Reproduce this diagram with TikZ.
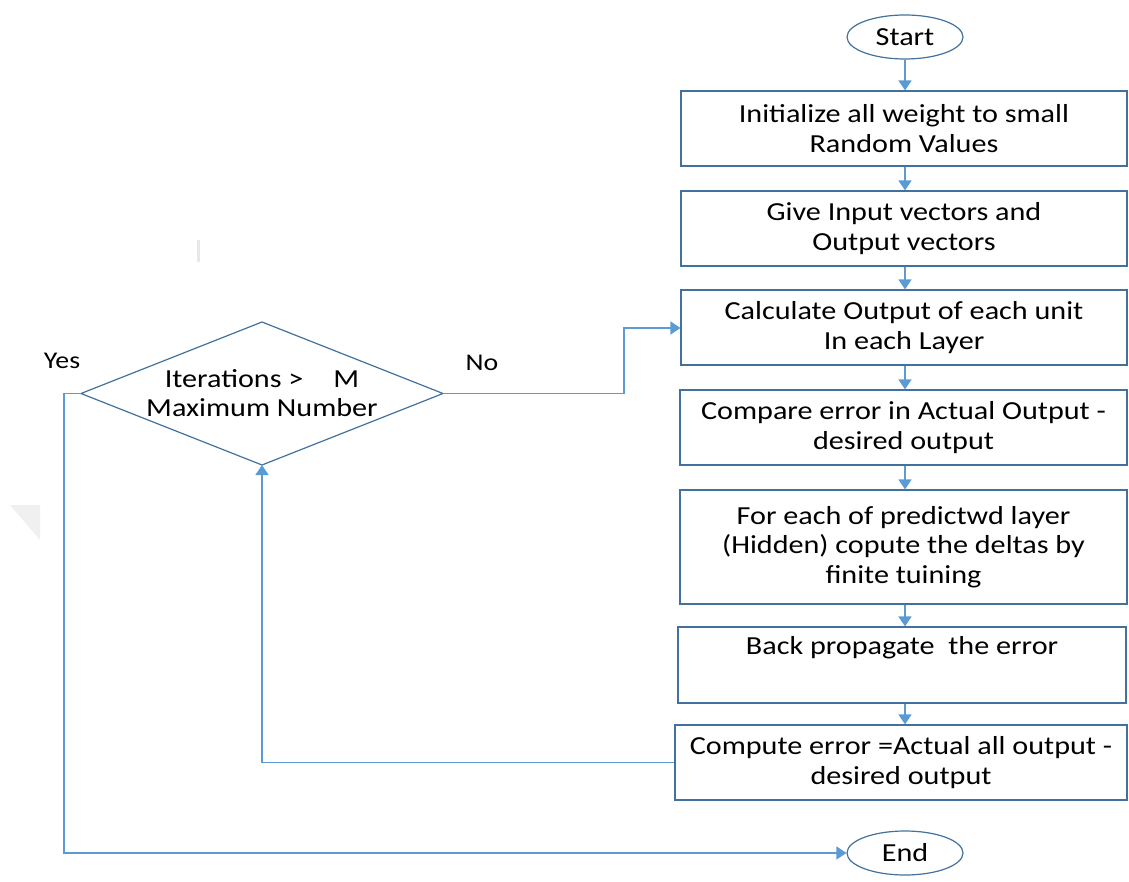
\documentclass[tikz,border=0pt]{standalone}
\usepackage{fontspec}
\setmainfont{Carlito}[FakeStretch=1.16]
\usetikzlibrary{arrows.meta,shapes.geometric}
\definecolor{linecol}{HTML}{5B9BD5}
\definecolor{boxcol}{HTML}{41719C}
\begin{document}
\begin{tikzpicture}[x=1pt,y=-1pt,
 box/.style={draw=boxcol,line width=1.2pt,rectangle,inner sep=0pt,align=center,font=\fontsize{26}{29.5}\selectfont,text=black},
 term/.style={draw=boxcol,line width=1.2pt,ellipse,minimum width=116pt,minimum height=44pt,inner sep=0pt,font=\fontsize{26}{29}\selectfont},
 dtext/.style={inner sep=0pt,align=center,font=\fontsize{26}{29.5}\selectfont},
 conn/.style={draw=linecol,line width=1.4pt,-{Triangle[width=13pt,length=10pt]}},
 dline/.style={draw=boxcol,line width=1.2pt},
 lbl/.style={font=\fontsize{24}{26}\selectfont}]
\useasboundingbox (0,0) rectangle (1129,882);
% faint artefacts
\fill[gray!18] (197,240) rectangle (200,262);
\fill[gray!12] (10,505) -- (40,505) -- (40,540) -- cycle;

\node[term] (start) at (905,37) {Start};
\node[box,minimum width=446pt,minimum height=75pt] (b1) at (904,128.5) {Initialize all weight to small\\Random Values};
\node[box,minimum width=446pt,minimum height=75pt] (b2) at (904,228.5) {Give Input vectors and\\Output vectors};
\node[box,minimum width=446pt,minimum height=75pt] (b3) at (904,327.5) {Calculate Output of each unit\\In each Layer};
\node[box,minimum width=447pt,minimum height=75pt] (b4) at (903.5,427.5) {Compare error in Actual Output -\\desired output};
\node[box,minimum width=447pt,minimum height=114pt] (b5) at (903.5,547) {For each of predictwd layer\\(Hidden) copute the deltas by\\finite tuining};
\node[box,minimum width=448pt,minimum height=76pt] (b6) at (902,665) {Back propagate\ \ the error\\ \strut};
\node[box,minimum width=452pt,minimum height=75pt] (b7) at (901,762.5) {Compute error =Actual all output -\\desired output};
\node[term] (end) at (905,853) {End};

% decision
\node[dtext] (d) at (262,393) {Iterations >\hspace{30pt}M\\Maximum Number};
\coordinate (dW) at (81,393.5);
\coordinate (dE) at (443,393.5);
\coordinate (dN) at (262,322);
\coordinate (dS) at (262,465);
\draw[dline,line join=miter] (dW) -- (dN) -- (dE) -- (dS) -- cycle;

\node[lbl] (yes) at (62,361) {Yes};
\node[lbl] (no) at (482,363) {No};

\draw[conn] (start.south) -- (start.south |- b1.north);
\draw[conn] (b1.south -| start.south) -- (start.south |- b2.north);
\draw[conn] (b2.south -| start.south) -- (start.south |- b3.north);
\draw[conn] (b3.south -| start.south) -- (start.south |- b4.north);
\draw[conn] (b4.south -| start.south) -- (start.south |- b5.north);
\draw[conn] (b5.south -| start.south) -- (start.south |- b6.north);
\draw[conn] (b6.south -| start.south) -- (start.south |- b7.north);

\coordinate (nk) at (624,328);
\draw[conn] (dE) -- (dE -| nk) -- (nk) -- (b3.west |- nk);
\draw[conn] (b7.west) -- (b7.west -| dS) -- (dS);
\coordinate (yk) at (64,853);
\draw[conn] (dW) -- (dW -| yk) -- (yk) -- (end.west);
\end{tikzpicture}
\end{document}
